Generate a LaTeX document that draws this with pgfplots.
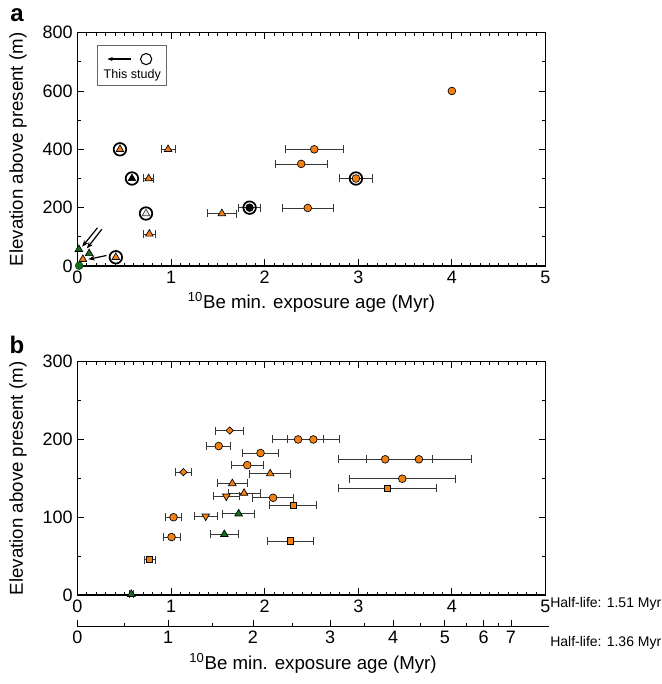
\documentclass[border=0pt]{standalone}
\usepackage{pgfplots}
\pgfplotsset{compat=1.18}
\usepackage{fontspec}
\setmainfont{Liberation Sans}
\usetikzlibrary{arrows.meta}

\definecolor{orng}{RGB}{243,128,18}
\definecolor{grn}{RGB}{20,110,24}
\definecolor{ebar}{RGB}{55,55,55}

\pgfplotsset{
  panel/.style={
    scale only axis, width=351pt, height=175pt,
    xmin=0, xmax=5, xtick={0,...,5}, minor x tick num=9,
    tick align=inside, major tick length=5pt, minor tick length=2.6pt,
    axis line style={line width=0.8pt},
    every tick/.style={line width=0.6pt, black},
    ticklabel style={font=\fontsize{13.5}{16}\selectfont},
    /pgf/number format/assume math mode=true,
    label style={font=\fontsize{14}{16}\selectfont},
    ylabel={Elevation above present (m)},
    ylabel style={at={(axis description cs:-0.127,0.5)}, anchor=center},
    clip=false,
  },
  eb/.style={error bars/.cd, x dir=both, x explicit,
    error bar style={line width=0.6pt, ebar},
    error mark options={rotate=90, mark size=3pt, line width=0.6pt, ebar}},
  oc/.style={only marks, mark=*, mark size=2.9pt,
    mark options={fill=orng, draw=black, line width=0.5pt}},
  ot/.style={only marks, mark=triangle*, mark size=3.3pt,
    mark options={fill=orng, draw=black, line width=0.5pt}},
  ov/.style={only marks, mark=triangle*, mark size=3.3pt,
    mark options={fill=orng, draw=black, line width=0.5pt, rotate=180}},
  od/.style={only marks, mark=square*, mark size=1.95pt,
    mark options={fill=orng, draw=black, line width=0.5pt, rotate=45}},
  os/.style={only marks, mark=square*, mark size=2.4pt,
    mark options={fill=orng, draw=black, line width=0.5pt}},
  gt/.style={only marks, mark=triangle*, mark size=3.3pt,
    mark options={fill=grn, draw=black, line width=0.5pt}},
  ring/.style={only marks, mark=o, mark size=4.7pt,
    mark options={draw=black, line width=1.3pt}},
}

\begin{document}
\begin{tikzpicture}
\useasboundingbox (0pt,0pt) rectangle (495.75pt,-513pt);

% ---------------- panel a ----------------
\begin{axis}[panel, at={(58.1pt,-199.5pt)}, anchor=south west,
    ymin=0, ymax=800, ytick={0,200,...,800}, minor y tick num=1,
    xlabel={\textsuperscript{10}Be min. exposure age (Myr)}]

\addplot[oc, eb] table[x error=e] {
x y e
2.53 400 0.31
2.39 350 0.28
2.46 199 0.27
2.975 300 0.177
};
\addplot[oc] coordinates {(4.0,600)};
\addplot[ot, eb] table[x error=e] {
x y e
0.968 400 0.075
0.761 300 0.055
0.768 110 0.062
1.543 180 0.15
};
\addplot[ot] coordinates {(0.454,400) (0.41,30) (0.058,23)};
\addplot[only marks, mark=triangle*, mark size=3.3pt,
    mark options={fill=black, draw=black}] coordinates {(0.582,300)};
\addplot[only marks, mark=triangle*, mark size=3.3pt,
    mark options={fill=white!85!gray, draw=ebar, line width=0.5pt}] coordinates {(0.732,180)};
\addplot[only marks, mark=*, mark size=2.9pt,
    mark options={fill=black, draw=black}, eb] table[x error=e] {
x y e
1.839 200 0.12
};
\addplot[gt] coordinates {(0.015,57) (0.125,43)};
\addplot[only marks, mark=*, mark size=2.9pt,
    mark options={fill=grn, draw=grn!60!black}] coordinates {(0.018,1)};
\addplot[ring] coordinates {(0.454,400) (0.582,300) (0.732,180) (1.839,200) (2.975,300) (0.41,30)};

\draw[line width=0.9pt, -{Stealth[length=5pt]}] (axis cs:0.214,131) -- (axis cs:0.05,66);
\draw[line width=0.9pt, -{Stealth[length=5pt]}] (axis cs:0.26,126) -- (axis cs:0.10,60);
\draw[line width=0.9pt, -{Stealth[length=5pt]}] (axis cs:0.31,36) -- (axis cs:0.115,23);
\end{axis}

% legend box of panel a
\draw[line width=0.6pt, gray!80!black] (73.3pt,-34.3pt) rectangle (125pt,-64.3pt);
\draw[line width=0.9pt, -{Stealth[length=4pt]}] (98.5pt,-44.3pt) -- (80.5pt,-44.3pt);
\draw[line width=0.8pt] (109.6pt,-44.3pt) circle (4.2pt);
\node[font=\fontsize{9.4}{11}\selectfont, inner sep=0pt] at (99.2pt,-56.4pt) {This study};

% ---------------- panel b ----------------
\begin{axis}[panel, at={(58.1pt,-446.25pt)}, anchor=south west,
    ymin=0, ymax=300, ytick={0,100,200,300}, minor y tick num=1]

\addplot[oc, eb] table[x error=e] {
x y e
2.357 200 0.27
2.52 200 0.28
1.509 191.5 0.13
1.956 182.5 0.19
1.814 167 0.17
2.09 125 0.22
1.026 100 0.085
1.005 74.5 0.09
3.288 174.5 0.50
3.648 174.5 0.56
3.47 149.5 0.57
};
\addplot[od, eb] table[x error=e] {
x y e
1.626 211.5 0.15
1.132 158 0.09
};
\addplot[ot, eb] table[x error=e] {
x y e
2.059 156 0.22
1.654 143.4 0.16
1.78 131 0.17
};
\addplot[ov, eb] table[x error=e] {
x y e
1.59 127 0.14
1.37 101.3 0.12
};
\addplot[gt, eb] table[x error=e] {
x y e
1.722 104.5 0.17
1.569 78 0.15
0.575 1 0.02
};
\addplot[os, eb] table[x error=e] {
x y e
2.304 115.5 0.25
2.272 69.5 0.245
0.77 45.5 0.06
3.31 137 0.52
};
\end{axis}

% lower age axis of panel b (half-life 1.36 Myr)
\begin{axis}[scale only axis, width=353.4pt, height=10pt,
    at={(58.1pt,-470pt)}, anchor=south west,
    xmin=0, xmax=5.035, ymin=0, ymax=1,
    hide y axis, axis x line*=bottom,
    axis line style={line width=0.8pt},
    every tick/.style={line width=0.6pt, black},
    tick align=inside, major tick length=5pt, minor tick length=3pt,
    xtick={0,0.97,1.875,2.699,3.374,3.925,4.339,4.632},
    xticklabels={0,1,2,3,4,5,6,7},
    minor xtick={0.5,1.44,2.30,3.069,3.667,4.153,4.5},
    ticklabel style={font=\fontsize{13.5}{16}\selectfont},
    label style={font=\fontsize{14}{16}\selectfont},
    xlabel={\textsuperscript{10}Be min. exposure age (Myr)}]
\end{axis}

\node[anchor=west, font=\fontsize{10.5}{12}\selectfont, inner sep=0pt] at (412.5pt,-453pt) {Half-life: 1.51 Myr};
\node[anchor=west, font=\fontsize{10.5}{12}\selectfont, inner sep=0pt] at (412.5pt,-482.25pt) {Half-life: 1.36 Myr};

\node[font=\bfseries\fontsize{18}{20}\selectfont, inner sep=0pt] at (12.75pt,-11.25pt) {a};
\node[font=\bfseries\fontsize{18}{20}\selectfont, inner sep=0pt] at (12.75pt,-258.75pt) {b};
\end{tikzpicture}
\end{document}
